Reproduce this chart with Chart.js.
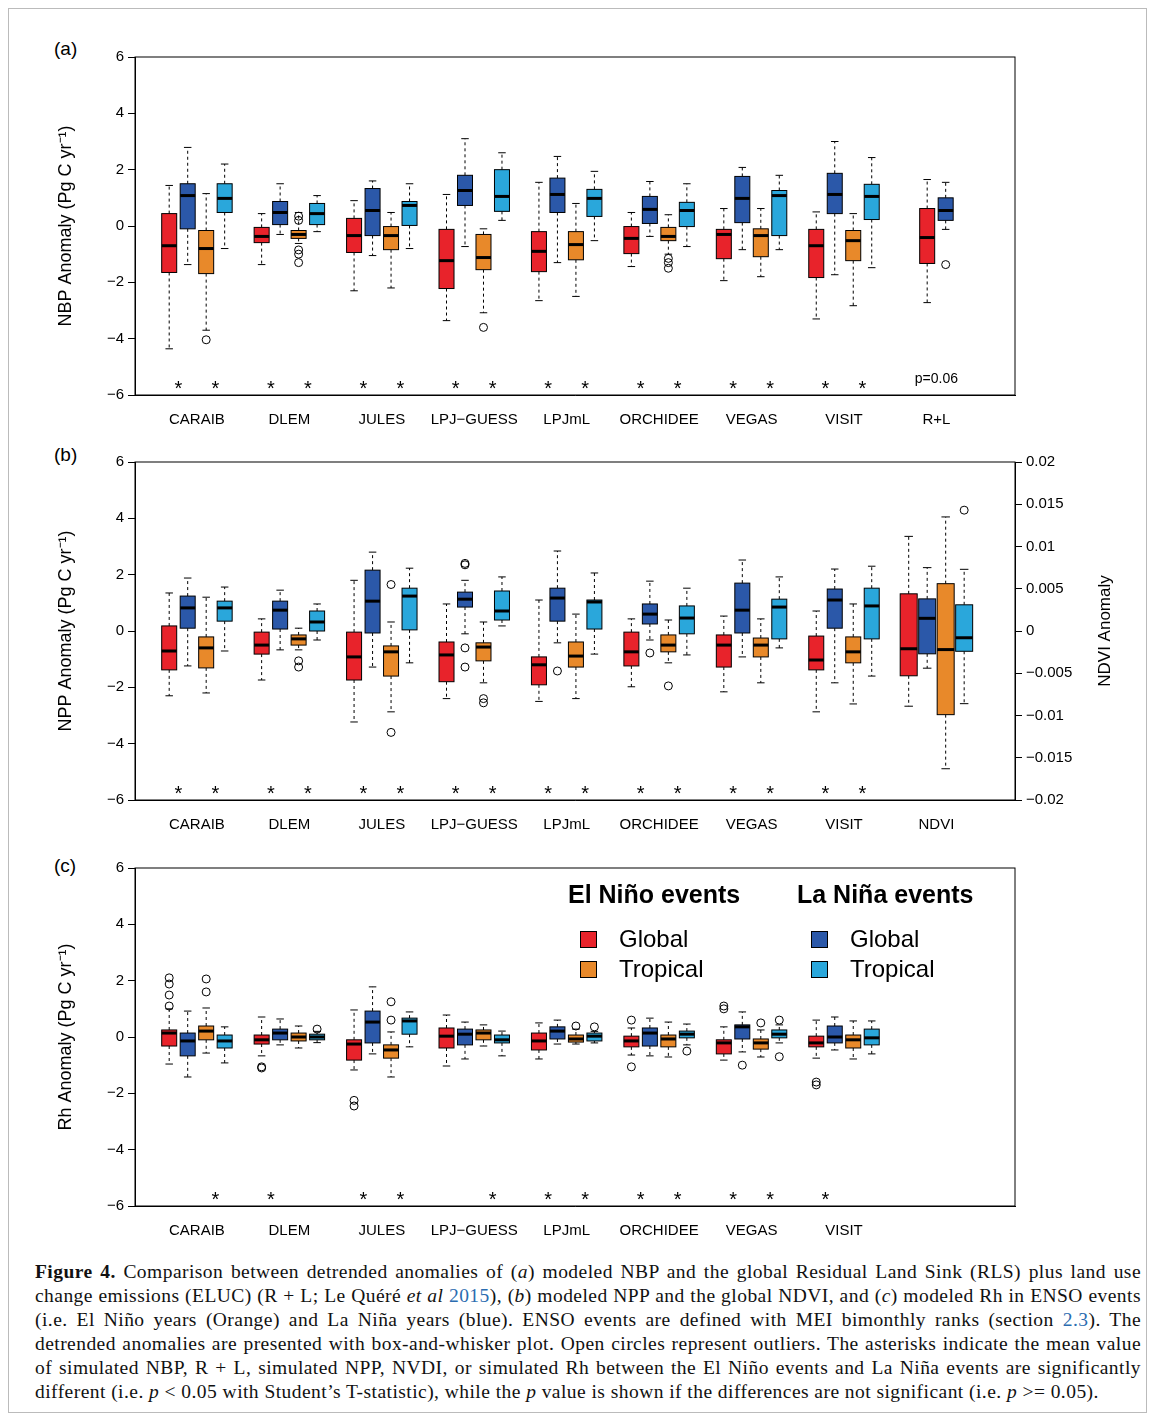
<!DOCTYPE html>
<html>
<head>
<meta charset="utf-8">
<script src="https://cdn.jsdelivr.net/npm/chart.js@4.4.1/dist/chart.umd.min.js"></script>
<style>
  body { margin: 0; background: #fff; width: 1153px; height: 1419px; position: relative; font-family: "Liberation Sans", Arial, sans-serif; }
  .frame { position: absolute; left: 8px; top: 8px; width: 1137px; height: 1403px; border: 1px solid #bbb; }
  canvas { position: absolute; left: 0; }
  .plabel { position: absolute; left: 54px; font-size: 19px; }
  .legend { position: absolute; font-size: 24px; }
  .legend b { font-size: 25px; }
  .sw { position: absolute; width: 15px; height: 15px; border: 1px solid #000; }
  .caption { position: absolute; left: 35px; top: 1260px; width: 1106px; font-family: "Liberation Serif", "Times New Roman", serif; font-size: 19.5px; letter-spacing: 0.45px; line-height: 24px; text-align: justify; color: #111; }
  .caption a { color: #2b6cb0; }
</style>
</head>
<body>
<div class="frame"></div>
<div class="plabel" style="top:38px">(a)</div>
<div class="plabel" style="top:444px">(b)</div>
<div class="plabel" style="top:855px">(c)</div>
<canvas id="chartA" width="1153" height="416" style="top:30px"></canvas>
<canvas id="chartB" width="1153" height="416" style="top:435px"></canvas>
<canvas id="chartC" width="1153" height="416" style="top:841px"></canvas>

<div class="legend" style="left:568px;top:880px"><b>El Niño events</b></div>
<div class="legend" style="left:797px;top:880px"><b>La Niña events</b></div>
<div class="sw" style="left:580px;top:931px;background:#e8232b"></div>
<div class="legend" style="left:619px;top:925px">Global</div>
<div class="sw" style="left:580px;top:961px;background:#e8892a"></div>
<div class="legend" style="left:619px;top:955px">Tropical</div>
<div class="sw" style="left:811px;top:931px;background:#2b58a9"></div>
<div class="legend" style="left:850px;top:925px">Global</div>
<div class="sw" style="left:811px;top:961px;background:#2aa7db"></div>
<div class="legend" style="left:850px;top:955px">Tropical</div>

<div class="caption"><b>Figure 4.</b> Comparison between detrended anomalies of (<i>a</i>) modeled NBP and the global Residual Land Sink (RLS) plus land use change emissions (ELUC) (R + L; Le Quéré <i>et al</i> <a>2015</a>), (<i>b</i>) modeled NPP and the global NDVI, and (<i>c</i>) modeled Rh in ENSO events (i.e. El Niño years (Orange) and La Niña years (blue). ENSO events are defined with MEI bimonthly ranks (section <a>2.3</a>). The detrended anomalies are presented with box-and-whisker plot. Open circles represent outliers. The asterisks indicate the mean value of simulated NBP, R + L, simulated NPP, NVDI, or simulated Rh between the El Niño events and La Niña events are significantly different (i.e. <i>p</i> &lt; 0.05 with Student’s T-statistic), while the <i>p</i> value is shown if the differences are not significant (i.e. <i>p</i> &gt;= 0.05).</div>

<script>
const models = ["CARAIB", "DLEM", "JULES", "LPJ\u2212GUESS", "LPJmL", "ORCHIDEE", "VEGAS", "VISIT"];
const labelsA = [...models, "R+L"];
const labelsB = [...models, "NDVI"];
const labelsC = models;
const yTicks = [-6, -4, -2, 0, 2, 4, 6];
const ndviTicks = [-0.02, -0.015, -0.01, -0.005, 0, 0.005, 0.01, 0.015, 0.02];

// [low whisker, q1, median, q3, high whisker]
const nbpElGlobal = [[-4.36,-1.65,-0.7,0.44,1.44],[-1.37,-0.59,-0.37,-0.05,0.44],[-2.3,-0.94,-0.34,0.27,0.9],[-3.36,-2.22,-1.23,-0.12,1.12],[-2.65,-1.62,-0.9,-0.2,1.55],[-1.44,-0.98,-0.44,-0.02,0.48],[-1.94,-1.16,-0.3,-0.12,0.62],[-3.3,-1.83,-0.7,-0.12,0.5],[-2.72,-1.33,-0.41,0.62,1.65]];
const nbpLaGlobal = [[-1.37,-0.1,1.08,1.5,2.79],[-0.3,0.05,0.48,0.87,1.5],[-1.05,-0.34,0.55,1.33,1.6],[-0.73,0.73,1.26,1.8,3.1],[-1.3,0.48,1.12,1.7,2.47],[-0.37,0.09,0.59,1.05,1.58],[-0.84,0.12,0.98,1.76,2.08],[-1.73,0.44,1.12,1.87,3.0],[-0.12,0.2,0.55,1.0,1.55]];
const nbpElTrop = [[-3.7,-1.69,-0.8,-0.16,1.15],[-0.62,-0.44,-0.3,-0.16,0.48],[-2.2,-0.84,-0.34,-0.02,0.48],[-3.08,-1.55,-1.12,-0.3,-0.1],[-2.5,-1.2,-0.66,-0.2,0.8],[-1.0,-0.52,-0.37,-0.05,0.4],[-1.8,-1.09,-0.34,-0.1,0.62],[-2.83,-1.23,-0.52,-0.16,0.44],null];
const nbpLaTrop = [[-0.8,0.48,0.98,1.5,2.2],[-0.2,0.05,0.44,0.8,1.08],[-0.8,0.02,0.73,0.87,1.5],[0.2,0.52,1.05,2.0,2.6],[-0.52,0.34,0.98,1.3,1.94],[-0.73,-0.02,0.55,0.84,1.5],[-0.84,-0.34,1.08,1.26,1.8],[-1.48,0.23,1.05,1.48,2.43],null];
const nbpElGlobalOut = [[],[],[],[],[],[],[],[],[]];
const nbpLaGlobalOut = [[],[],[],[],[],[],[],[],[-1.37]];
const nbpElTropOut = [[-4.04],[0.35,0.2,-0.85,-1.0,-1.3],[],[-3.6],[],[-1.15,-1.3,-1.5],[],[],[]];
const nbpLaTropOut = [[],[],[],[],[],[],[],[],[]];
const sigA = [[1,1],[1,1],[1,1],[1,1],[1,1],[1,1],[1,1],[1,1],[0,0]];

const nppElGlobal = [[-2.3,-1.38,-0.71,0.18,1.35],[-1.74,-0.82,-0.5,-0.04,0.43],[-3.23,-1.74,-0.92,-0.04,1.8],[-2.4,-1.8,-0.85,-0.39,0.96],[-2.5,-1.91,-1.2,-0.92,1.1],[-1.98,-1.24,-0.74,-0.04,0.43],[-2.16,-1.28,-0.5,-0.14,0.53],[-2.87,-1.38,-1.03,-0.18,0.71]];
const nppLaGlobal = [[-1.24,0.1,0.82,1.24,1.88],[-0.67,0.07,0.74,1.06,1.45],[-1.28,-0.07,1.06,2.16,2.8],[-0.1,0.85,1.13,1.38,1.8],[-0.42,0.35,1.17,1.52,2.84],[-0.32,0.25,0.6,0.96,1.77],[-0.92,-0.07,0.74,1.7,2.52],[-1.84,0.1,1.1,1.49,2.2]];
const nppElTrop = [[-2.2,-1.31,-0.6,-0.21,1.2],[-0.67,-0.5,-0.28,-0.14,0.1],[-2.87,-1.6,-0.74,-0.53,0.32],[-1.84,-1.06,-0.57,-0.42,0.32],[-2.4,-1.28,-0.89,-0.39,0.6],[-1.13,-0.74,-0.5,-0.14,0.39],[-1.84,-0.92,-0.5,-0.25,0.43],[-2.59,-1.13,-0.74,-0.21,0.96]];
const nppLaTrop = [[-0.71,0.35,0.82,1.06,1.56],[-0.32,0,0.32,0.71,0.96],[-1.13,0.04,1.24,1.52,2.23],[0.18,0.39,0.71,1.42,1.92],[-0.82,0.07,1.03,1.1,2.06],[-0.85,-0.1,0.46,0.89,1.52],[-0.6,-0.28,0.85,1.13,1.92],[-1.6,-0.28,0.89,1.52,2.3]];
const nppElGlobalOut = [[],[],[],[],[],[],[],[]];
const nppLaGlobalOut = [[],[],[],[2.4,2.35,-0.6,-1.28],[-1.42],[-0.78],[],[]];
const nppElTropOut = [[],[-1.06,-1.28],[1.65,-3.6],[-2.4,-2.55],[],[-1.95],[],[]];
const nppLaTropOut = [[],[],[],[],[],[],[],[]];
const sigB = [[1,1],[1,1],[1,1],[1,1],[1,1],[1,1],[1,1],[1,1],[0,0]];
// NDVI group (right axis)
const ndviBoxes = [[-0.0089,-0.0053,-0.0021,0.0044,0.0112],[-0.0044,-0.0027,0.0015,0.0038,0.0075],[-0.0163,-0.0099,-0.0022,0.0056,0.0135],[-0.0086,-0.0024,-0.0008,0.0031,0.0073]];
const ndviOut = [[],[],[],[0.0143]];

const rhElGlobal = [[-0.96,-0.32,0.14,0.25,1.0],[-0.67,-0.25,-0.1,0.07,0.71],[-1.17,-0.82,-0.25,-0.1,0.96],[-1.03,-0.39,0.03,0.32,0.78],[-0.78,-0.46,-0.14,0.14,0.5],[-0.64,-0.35,-0.14,0.03,0.32],[-0.82,-0.6,-0.21,-0.1,0.36],[-0.75,-0.35,-0.21,0.03,0.6]];
const rhLaGlobal = [[-1.42,-0.67,-0.14,0.14,0.92],[-0.28,-0.1,0.14,0.28,0.64],[-0.6,-0.21,0.53,0.92,1.78],[-0.78,-0.28,0.1,0.28,0.53],[-0.25,-0.07,0.21,0.36,0.6],[-0.67,-0.32,0.14,0.32,0.67],[-0.53,-0.07,0.36,0.43,0.89],[-0.46,-0.21,0,0.39,0.71]];
const rhElTrop = [[-0.57,-0.1,0.21,0.39,1.03],[-0.39,-0.14,0,0.14,0.39],[-1.42,-0.75,-0.46,-0.28,0.18],[-0.32,-0.1,0.14,0.25,0.43],[-0.25,-0.18,-0.07,0.07,0.28],[-0.71,-0.35,-0.07,0.07,0.53],[-0.71,-0.43,-0.21,-0.07,0.25],[-0.78,-0.39,-0.1,0.07,0.57]];
const rhLaTrop = [[-0.92,-0.39,-0.14,0.07,0.36],[-0.2,-0.1,0,0.1,0.2],[-0.35,0.1,0.57,0.67,0.89],[-0.67,-0.21,-0.1,0.07,0.21],[-0.21,-0.14,0.03,0.14,0.2],[-0.28,-0.03,0.1,0.21,0.46],[-0.21,-0.03,0.1,0.25,0.43],[-0.6,-0.28,-0.03,0.28,0.57]];
const rhElGlobalOut = [[2.1,1.88,1.49,1.1],[-1.06,-1.1],[-2.25,-2.45],[],[],[0.6,-1.06],[1.1,1.0],[-1.6,-1.7]];
const rhLaGlobalOut = [[],[],[],[],[],[],[-1.0],[]];
const rhElTropOut = [[2.06,1.6],[],[1.25,0.6],[],[0.39],[],[0.5],[]];
const rhLaTropOut = [[],[0.28],[],[],[0.36],[-0.5],[0.6,-0.7],[]];
const sigC = [[0,1],[1,0],[1,1],[0,1],[1,1],[1,1],[1,1],[1,0]];

const colors = ["#e8232b", "#2b58a9", "#e8892a", "#2aa7db"];
const offsets4 = [-0.3, -0.1, 0.1, 0.3];
const offsets2 = [-0.1, 0.1];
const FONT = "'Liberation Sans', Arial, sans-serif";
const minus = (v) => String(v).replace("-", "\u2212");

function buildSeries(series, outs) {
  const items = [];
  const nGroups = series[0].length;
  for (let g = 0; g < nGroups; g++) {
    const present = series.map((s, k) => ({ b: s[g], k })).filter((o) => o.b);
    const offs = present.length === 2 ? offsets2 : offsets4;
    present.forEach((o, j) => {
      items.push({ x: g + 1 + offs[j], box: o.b, out: outs[o.k][g] || [], color: colors[o.k], axis: "y" });
    });
  }
  return items;
}

const boxPlugin = {
  id: "boxes",
  afterDatasetsDraw(chart) {
    const { ctx, chartArea, scales } = chart;
    const cfg = chart.options.plugins.boxes;
    const x = scales.x;
    cfg.items.forEach((it) => {
      const y = scales[it.axis];
      const cx = x.getPixelForValue(it.x);
      const w = it.width || 15;
      const [lo, q1, med, q3, hi] = it.box.map((v) => y.getPixelForValue(v));
      ctx.save();
      ctx.strokeStyle = "#000";
      ctx.lineWidth = 1;
      ctx.setLineDash([3, 3]);
      ctx.beginPath();
      ctx.moveTo(cx, q3); ctx.lineTo(cx, hi);
      ctx.moveTo(cx, q1); ctx.lineTo(cx, lo);
      ctx.stroke();
      ctx.setLineDash([]);
      ctx.beginPath();
      ctx.moveTo(cx - w / 4, hi); ctx.lineTo(cx + w / 4, hi);
      ctx.moveTo(cx - w / 4, lo); ctx.lineTo(cx + w / 4, lo);
      ctx.stroke();
      ctx.fillStyle = it.color;
      ctx.fillRect(cx - w / 2, q3, w, q1 - q3);
      ctx.strokeRect(cx - w / 2, q3, w, q1 - q3);
      ctx.lineWidth = 3;
      ctx.beginPath();
      ctx.moveTo(cx - w / 2, med); ctx.lineTo(cx + w / 2, med);
      ctx.stroke();
      ctx.restore();
    });
    ctx.save();
    ctx.fillStyle = "#000";
    ctx.font = "20px " + FONT;
    ctx.textAlign = "center";
    ctx.textBaseline = "middle";
    cfg.sig.forEach((pair, g) => {
      pair.forEach((s, k) => {
        if (!s) return;
        const px = x.getPixelForValue(g + 1 + (k ? 0.2 : -0.2));
        ctx.fillText("*", px, scales.y.getPixelForValue(-5.8));
      });
    });
    if (cfg.note) {
      ctx.font = "14px " + FONT;
      ctx.fillText(cfg.note.text, x.getPixelForValue(cfg.note.x), scales.y.getPixelForValue(-5.45));
    }
    if (cfg.rightTitle) {
      ctx.font = "17px " + FONT;
      ctx.translate(chartArea.right + 90, (chartArea.top + chartArea.bottom) / 2);
      ctx.rotate(-Math.PI / 2);
      ctx.fillText(cfg.rightTitle, 0, 0);
      ctx.setTransform(1, 0, 0, 1, 0, 0);
    }
    ctx.lineWidth = 1;
    ctx.strokeStyle = "#000";
    ctx.strokeRect(chartArea.left, chartArea.top, chartArea.right - chartArea.left, chartArea.bottom - chartArea.top);
    ctx.restore();
  },
};

function makeChart(id, labels, items, sig, yTitle, opts = {}) {
  const outlierPts = { y: [], y2: [] };
  items.forEach((it) => it.out.forEach((v) => outlierPts[it.axis].push({ x: it.x, y: v })));
  const pointStyle = { pointRadius: 4, pointBackgroundColor: "rgba(0,0,0,0)", pointBorderColor: "#000", pointBorderWidth: 1, showLine: false };
  const datasets = [{ data: outlierPts.y, yAxisID: "y", ...pointStyle }];
  const scales = {
    x: {
      type: "linear", min: 0.33, max: 9.85,
      afterBuildTicks: (s) => { s.ticks = labels.map((_, i) => ({ value: i + 1 })); },
      afterFit: (s) => { s.height = 40; },
      ticks: { callback: (v) => labels[v - 1], color: "#000", padding: 16, font: { family: FONT, size: 15 }, maxRotation: 0, autoSkip: false },
      grid: { display: false, drawTicks: false },
      border: { color: "#000" },
    },
    y: {
      min: -6, max: 6,
      afterBuildTicks: (s) => { s.ticks = yTicks.map((v) => ({ value: v })); },
      afterFit: (s) => { s.width = 80; },
      ticks: { callback: (v) => minus(v), color: "#000", padding: 4, font: { family: FONT, size: 15 } },
      grid: { drawOnChartArea: false, tickLength: 7, color: "#000" },
      border: { color: "#000" },
      title: { display: true, text: yTitle, color: "#000", font: { family: FONT, size: 18 }, padding: { top: 0, bottom: 4 } },
    },
  };
  let padRight = 138;
  if (opts.ndvi) {
    datasets.push({ data: outlierPts.y2, yAxisID: "y2", ...pointStyle });
    scales.y2 = {
      position: "right", min: -0.02, max: 0.02,
      afterBuildTicks: (s) => { s.ticks = ndviTicks.map((v) => ({ value: v })); },
      afterFit: (s) => { s.width = 98; },
      ticks: { callback: (v) => minus(v), color: "#000", padding: 4, font: { family: FONT, size: 15 } },
      grid: { drawOnChartArea: false, tickLength: 7, color: "#000" },
      border: { color: "#000" },
    };
    padRight = 40;
  }
  return new Chart(document.getElementById(id), {
    type: "scatter",
    data: { datasets },
    options: {
      responsive: false,
      animation: false,
      devicePixelRatio: 1,
      layout: { padding: { left: 55, right: padRight, top: 27, bottom: 11 } },
      scales,
      plugins: {
        legend: { display: false },
        tooltip: { enabled: false },
        boxes: { items, sig, note: opts.note, rightTitle: opts.ndvi ? "NDVI Anomaly" : null },
      },
    },
    plugins: [boxPlugin],
  });
}

const itemsA = buildSeries([nbpElGlobal, nbpLaGlobal, nbpElTrop, nbpLaTrop], [nbpElGlobalOut, nbpLaGlobalOut, nbpElTropOut, nbpLaTropOut]);
makeChart("chartA", labelsA, itemsA, sigA, "NBP Anomaly (Pg C yr\u207B\u00B9)", { note: { text: "p=0.06", x: 9 } });

const itemsB = buildSeries([nppElGlobal, nppLaGlobal, nppElTrop, nppLaTrop], [nppElGlobalOut, nppLaGlobalOut, nppElTropOut, nppLaTropOut]);
ndviBoxes.forEach((b, k) => itemsB.push({ x: 9 + offsets4[k], box: b, out: ndviOut[k], color: colors[k], axis: "y2", width: 17 }));
makeChart("chartB", labelsB, itemsB, sigB, "NPP Anomaly (Pg C yr\u207B\u00B9)", { ndvi: true });

const itemsC = buildSeries([rhElGlobal, rhLaGlobal, rhElTrop, rhLaTrop], [rhElGlobalOut, rhLaGlobalOut, rhElTropOut, rhLaTropOut]);
makeChart("chartC", labelsC, itemsC, sigC, "Rh Anomaly (Pg C yr\u207B\u00B9)");
</script>
</body>
</html>
